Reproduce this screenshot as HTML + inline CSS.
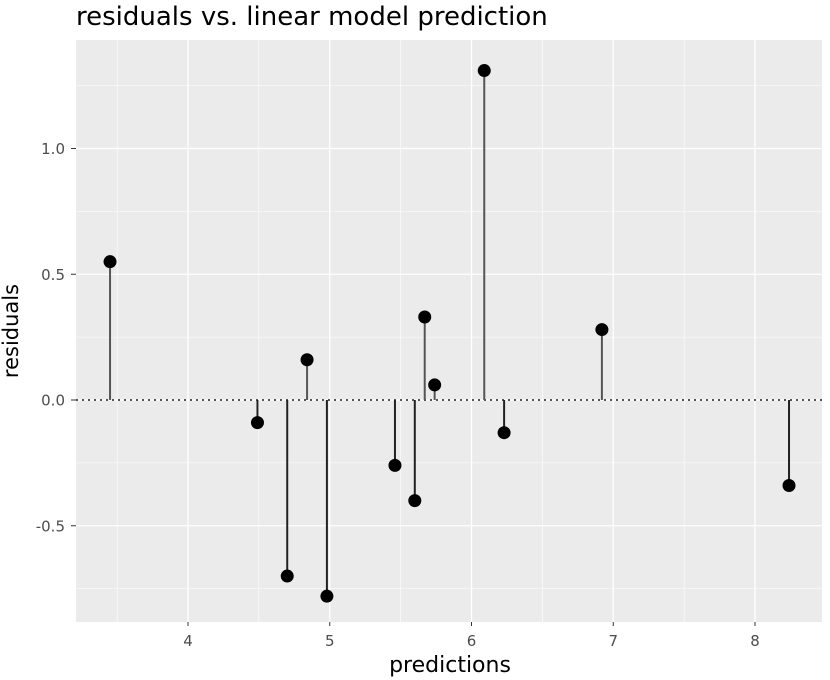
<!DOCTYPE html>
<html><head><meta charset="utf-8"><style>
body{margin:0;background:#fff;}
svg{display:block;font-family:"DejaVu Sans","Liberation Sans",sans-serif;}
</style></head><body>
<svg id="chart" width="830" height="680">
<text x="76" y="25" font-size="26" fill="#000">residuals vs. linear model prediction</text>
<rect x="76" y="40" width="746" height="582" fill="#ebebeb"/>
<g id="grid"></g>
<g id="axes"></g>
<g id="marks"></g>
<text x="450" y="672" font-size="22" text-anchor="middle" fill="#000">predictions</text>
<text transform="translate(18,331) rotate(-90)" font-size="21" text-anchor="middle" fill="#000">residuals</text>
</svg>
<script>
const predictions=[3.45,4.49,4.70,4.84,4.98,5.46,5.60,5.67,5.74,6.09,6.23,6.92,8.24];
const residuals=[0.55,-0.09,-0.70,0.16,-0.78,-0.26,-0.40,0.33,0.06,1.31,-0.13,0.28,-0.34];
const xTicks=[4,5,6,7,8];
const yTicks=[-0.5,0.0,0.5,1.0];
const xMinor=[3.5,4.5,5.5,6.5,7.5];
const yMinor=[-0.75,-0.25,0.25,0.75,1.25];
const NS="http://www.w3.org/2000/svg";
function X(v){return 188+(v-4)*141.75;}
function Y(v){return 400-v*251.5;}
function mk(tag,attrs,parent){const e=document.createElementNS(NS,tag);for(const k in attrs)e.setAttribute(k,attrs[k]);document.getElementById(parent).appendChild(e);return e;}
xMinor.forEach(v=>{const e=mk('line',{x1:X(v),x2:X(v),y1:40,y2:622,stroke:'#fff','stroke-width':0.6},'grid');

});
yMinor.forEach(v=>{const e=mk('line',{x1:76,x2:822,y1:Y(v),y2:Y(v),stroke:'#fff','stroke-width':0.6},'grid');

});
xTicks.forEach(v=>{const e=mk('line',{x1:X(v),x2:X(v),y1:40,y2:622,stroke:'#fff','stroke-width':1.3},'grid');


const t=mk('line',{x1:X(v),x2:X(v),y1:622,y2:626,stroke:'#333'},'axes');


const l=mk('text',{x:X(v),y:646,'font-size':15,'text-anchor':'middle',fill:'#4d4d4d'},'axes');l.textContent=v;

});
yTicks.forEach(v=>{const e=mk('line',{x1:76,x2:822,y1:Y(v),y2:Y(v),stroke:'#fff','stroke-width':1.3},'grid');


const t=mk('line',{x1:71,x2:76,y1:Y(v),y2:Y(v),stroke:'#333'},'axes');


const l=mk('text',{x:65,y:Y(v)+5.5,'font-size':15,'text-anchor':'end',fill:'#4d4d4d'},'axes');l.textContent=v.toFixed(1);

});
const z=mk('line',{x1:76,x2:822,y1:Y(0),y2:Y(0),stroke:'#555','stroke-width':2,'stroke-dasharray':'2,4'},'marks');


predictions.forEach((p,i)=>{const r=residuals[i];
const s=mk('line',{x1:X(p),x2:X(p),y1:Y(0),y2:Y(r),stroke:r>0?'#555':'#222','stroke-width':2},'marks');


const c=mk('circle',{cx:X(p),cy:Y(r),r:6.5,fill:'#000'},'marks');

});
</script>
</body></html>
